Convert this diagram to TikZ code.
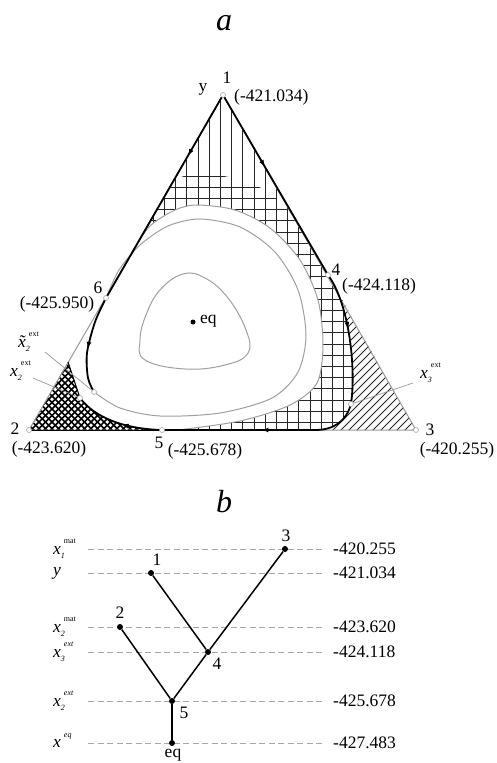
\documentclass[tikz,border=0pt]{standalone}
\usepackage{fontspec}
\setmainfont{Liberation Serif}
\usetikzlibrary{arrows.meta,decorations.markings}
\newcommand{\xsup}[3]{\textit{#1}\rlap{\raisebox{-0.55ex}{\fontsize{8}{8}\selectfont\textit{#2}}}\hspace{3pt}\raisebox{1.3ex}{\fontsize{8}{8}\selectfont #3}}
\newcommand{\xtil}{\textit{x}\llap{\textit{\char"02DC}\hspace{1.2pt}}}
\tikzset{
  side/.style={draw=gray!80, line width=1pt},
  traj/.style={line width=1.8pt, black},
  hatch/.style={line width=0.9pt, black!85},
  diam/.style={line width=1.5pt, black},
  curve/.style={draw=gray!75, line width=1pt},
  pt/.style={circle, draw=gray!70, fill=white, line width=0.6pt, inner sep=0pt, minimum size=5pt},
  dot/.style={circle, fill=black, inner sep=0pt, minimum size=6pt},
  lbl/.style={font=\fontsize{17.5}{18}\selectfont, inner sep=1pt},
  ttl/.style={font=\fontsize{32}{34}\selectfont\itshape},
  lvl/.style={draw=gray!70, line width=1pt, dash pattern=on 6pt off 3.5pt},
  link/.style={line width=1.5pt, black},
  ptr/.style={draw=gray!80, line width=0.7pt},
  midarr/.style={postaction={decorate}, decoration={markings, mark=at position #1 with {\arrow{Latex[length=7pt,width=5pt]}}}},
}

\begin{document}
\begin{tikzpicture}[x=1pt, y=-1pt]
\fill[white] (0,0) rectangle (496,763);
\useasboundingbox (0,0) rectangle (496,763);

% ---- a: simplex ----
\node[ttl] (ta) at (224,23) {a};
\coordinate (v1) at (223,95);
\coordinate (v2) at (29,430);
\coordinate (v3) at (416,430);
\coordinate (c4) at (328,275);
\coordinate (c5) at (162,430);
\coordinate (c6) at (106,298);
\coordinate (cq2) at (80,398);
\coordinate (cq2t) at (94,392);
\coordinate (cq3) at (351,404);
\coordinate (cb1) at (315,430);
\coordinate (ce3) at (68,362);

% hatching, kept out of the white regions by even-odd clipping
\def\diagreg{(c4) .. controls (350,305) and (356,370) .. (cq3) .. controls (346,422) and (333,430) .. (cb1) -- (v3) -- cycle}
\def\diamreg{(v2) -- (c5) .. controls (125,429) and (95,418) .. (cq2) -- (ce3) -- cycle}
\def\wout{plot[smooth] coordinates {(133,250) (150,226) (175,210) (197,205) (235,210) (270,228) (300,260) (318,300) (323,345) (317,383) (290,405) (240,421) (178,430)}}
\def\wreg{\wout -- (c5) .. controls (125,429) and (95,418) .. (cq2) -- (ce3) -- cycle}
\begin{scope}
  \clip (v1) -- (v2) -- (v3) -- cycle;
  \begin{scope}[even odd rule]
    \clip (0,0) rectangle (496,470) \wreg \diagreg \diamreg;
    \foreach \k in {0,...,35} \draw[hatch] ({30+11.2*\k},90) -- ({30+11.2*\k},435);
    \begin{scope}
      \clip plot[smooth] coordinates {(174,180) (197,173) (233,178) (265,190) (290,212) (305,238) (317,260) (328,275)} -- (v3) -- (v2) -- cycle;
      \foreach \k in {0,...,24} \draw[hatch] (20,{176+11.2*\k}) -- (420,{176+11.2*\k});
    \end{scope}
  \end{scope}
\end{scope}
\begin{scope}
  \clip \diagreg;
  \foreach \k in {0,...,40} \draw[hatch] ({200+8*\k},435) -- ++(160,-160);
\end{scope}
\begin{scope}
  \clip \diamreg;
  \foreach \k in {-20,...,40} {
    \draw[diam] ({6.5*\k},435) -- ++(90,-90);
    \draw[diam] ({6.5*\k},435) -- ++(-90,-90);
  }
\end{scope}

% curves
\draw[side] (v1) -- (v2) -- (v3) -- cycle;
\draw[curve] \wout;
\draw[curve] plot[smooth] coordinates {(94,392) (120,408) (160,416) (220,413) (272,398) (298,372) (306,335) (298,290) (275,252) (240,227) (200,219) (168,226) (140,245) (119,270) (106,298)};
\draw[curve] plot[smooth cycle, tension=0.7] coordinates {(183,274) (160,290) (146,315) (140,340) (145,360) (185,369) (225,365) (248,353) (246,330) (228,298) (205,278)};

% trajectories
\draw[line width=1pt] (v2) -- (c5);
\draw[line width=1pt] (cq2) -- (ce3);
\draw[traj, midarr=0.3] (v1) -- (c6);
\draw[traj, midarr=0.4] (v1) -- (c4);
\draw[traj, midarr=0.32] (c4) .. controls (350,305) and (356,370) .. (cq3) .. controls (346,422) and (333,430) .. (cb1);
\draw[traj, midarr=0.35] (cb1) -- (c5);
\draw[traj, midarr=0.45] (c5) .. controls (125,429) and (95,418) .. (cq2);
\draw[traj, midarr=0.55] plot[smooth] coordinates {(106,298) (95,322) (87,353) (88,378) (94,392)};

% pointers
\coordinate (px2t) at (45,352);
\coordinate (px2) at (33,378);
\coordinate (px3) at (413,383);
\draw[ptr] (px2t) -- (cq2t);
\draw[ptr] (px2) -- (cq2);
\draw[ptr] (px3) -- (cq3);

% marked points
\node[pt] (m1) at (v1) {};
\node[pt] (m2) at (v2) {};
\node[pt] (m3) at (v3) {};
\node[pt] (m4) at (c4) {};
\node[pt] (m5) at (c5) {};
\node[pt] (m6) at (c6) {};
\node[pt] (mq2) at (cq2) {};
\node[pt] (mq2t) at (cq2t) {};
\node[pt] (mq3) at (cq3) {};
\node[circle, fill=black, inner sep=0pt, minimum size=5pt] (meq) at (193,322) {};

% labels
\node[lbl] (l1) at (227,78) {1};
\node[lbl] (ly) at (203,89) {y};
\node[lbl, anchor=west] (e1) at (233,97) {(-421.034)};
\node[lbl] (l4) at (336,270) {4};
\node[lbl, anchor=west] (e4) at (341,286) {(-424.118)};
\node[lbl] (l6) at (98,288) {6};
\node[lbl] (e6) at (57,304) {(-425.950)};
\node[lbl] (l2) at (15,429) {2};
\node[lbl] (e2) at (49,449) {(-423.620)};
\node[lbl] (l5) at (159,443) {5};
\node[lbl] (e5) at (205,451) {(-425.678)};
\node[lbl] (l3) at (430,430) {3};
\node[lbl] (e3) at (457,450) {(-420.255)};
\node[lbl, anchor=west] (leq) at (199,321) {eq};
\node[lbl, anchor=west] (lx2t) at (17,342) {\xsup{\xtil}{2}{ext}};
\node[lbl, anchor=west] (lx2) at (9,371) {\xsup{x}{2}{ext}};
\node[lbl, anchor=west] (lx3) at (419,373) {\xsup{x}{3}{ext}};

% ---- b: levels ----
\node[ttl] (tb) at (224,502) {b};
\foreach \yy/\val [count=\i] in {549/-420.255, 573/-421.034, 627/-423.620, 652/-424.118, 701/-425.678, 743/-427.483} {
  \coordinate (ls\i) at (88,\yy);
  \coordinate (le\i) at (322,\yy);
  \draw[lvl] (ls\i) -- (le\i);
  \node[lbl, anchor=west] (val\i) at (332,\yy) {\val};
}
\node[lbl, anchor=west] (k1) at (52,549) {\xsup{x}{1}{mat}};
\node[lbl, anchor=west] (k2) at (52,573) {\textit{y}};
\node[lbl, anchor=west] (k3) at (52,627) {\xsup{x}{2}{mat}};
\node[lbl, anchor=west] (k4) at (52,652) {\xsup{x}{3}{\textit{ext}}};
\node[lbl, anchor=west] (k5) at (52,701) {\xsup{x}{2}{\textit{ext}}};
\node[lbl, anchor=west] (k6) at (52,743) {\xsup{x}{}{\textit{eq}}};

\node[dot] (n3) at (285,549) {};
\node[dot] (n1) at (151,573) {};
\node[dot] (n2) at (120,627) {};
\node[dot] (n4) at (208,652) {};
\node[dot] (n5) at (172,701) {};
\node[dot] (neq) at (172,743) {};
\draw[link] (n1) -- (n4);
\draw[link] (n3) -- (n4) -- (n5);
\draw[link] (n2) -- (n5);
\draw[link] (n5) -- (neq);
\node[lbl] (b3) at (286,536) {3};
\node[lbl] (b1) at (157,560) {1};
\node[lbl] (b2) at (120,613) {2};
\node[lbl] (b4) at (217,664) {4};
\node[lbl] (b5) at (184,713) {5};
\node[lbl] (beq) at (173,755) {eq};
\end{tikzpicture}
\end{document}
